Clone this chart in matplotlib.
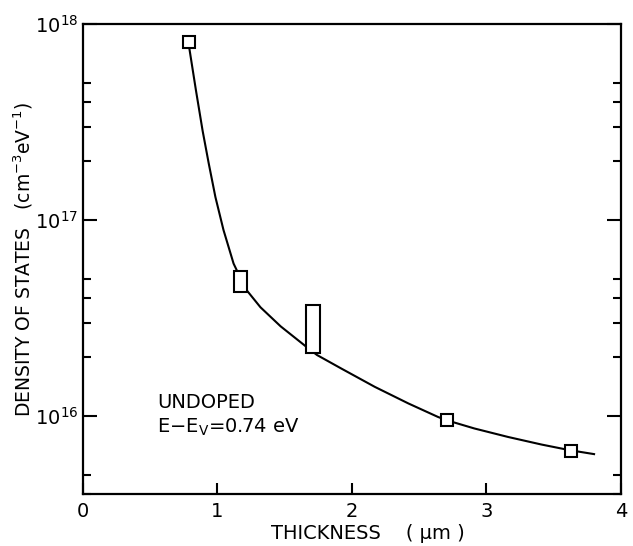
import matplotlib
matplotlib.use("Agg")
import matplotlib.pyplot as plt
from matplotlib.ticker import LogLocator, NullFormatter, FixedLocator

# measured points (squares)
sq_x = [0.79, 2.71, 3.63]
sq_y = [8.1e17, 9.5e15, 6.65e15]

# measured ranges (open rectangles)
bar_x = [1.17, 1.71]
bar_lo = [4.3e16, 2.1e16]
bar_hi = [5.5e16, 3.7e16]

# guide curve
curve_x = [0.79, 0.84, 0.89, 0.935, 0.985, 1.045, 1.12, 1.21, 1.32, 1.47, 1.66,
           1.74, 1.92, 2.17, 2.42, 2.64, 2.71, 2.91, 3.16, 3.41, 3.62, 3.80]
curve_y = [7.6e17, 4.6e17, 2.85e17, 1.95e17, 1.31e17, 8.9e16, 6.0e16, 4.45e16,
           3.59e16, 2.87e16, 2.26e16, 2.05e16, 1.75e16, 1.41e16, 1.16e16,
           9.9e15, 9.5e15, 8.65e15, 7.83e15, 7.16e15, 6.7e15, 6.4e15]

plt.rcParams['font.family'] = ['DejaVu Sans']
fig = plt.figure(figsize=(6.33, 5.46), dpi=100)
ax = fig.add_axes([0.131, 0.095, 0.850, 0.861])

ax.plot(curve_x, curve_y, color='black', lw=1.5, zorder=2)
ax.bar(bar_x, [h - l for h, l in zip(bar_hi, bar_lo)], bottom=bar_lo, width=0.1,
       facecolor='white', edgecolor='black', linewidth=1.5, zorder=3)
ax.plot(sq_x, sq_y, 's', ms=8.5, mfc='white', mec='black', mew=1.5, zorder=4)

ax.set_yscale('log')
ax.set_xlim(0, 4)
ax.set_ylim(4e15, 1e18)

ax.xaxis.set_major_locator(FixedLocator([0, 1, 2, 3, 4]))
ax.yaxis.set_major_locator(FixedLocator([1e16, 1e17, 1e18]))
ax.yaxis.set_minor_locator(LogLocator(base=10, subs=[2, 3, 4, 5]))
ax.yaxis.set_minor_formatter(NullFormatter())
ax.set_yticklabels([r'$10^{16}$', r'$10^{17}$', r'$10^{18}$'])

ax.tick_params(axis='x', which='both', direction='in', length=8, width=1.5,
               labelsize=14, pad=6, top=False)
ax.tick_params(axis='y', which='major', direction='in', length=10, width=1.5,
               labelsize=14, left=True, right=True)
ax.tick_params(axis='y', which='minor', direction='in', length=6, width=1.5,
               left=True, right=True)
for s in ax.spines.values():
    s.set_linewidth(1.6)

ax.set_xlabel('THICKNESS    ( \u03bcm )', fontsize=14, labelpad=2, x=0.53)
ax.set_ylabel(r'DENSITY OF STATES   (cm$^{-3}$eV$^{-1}$)', fontsize=13.5, labelpad=0)

ax.text(0.138, 0.194, 'UNDOPED', transform=ax.transAxes, fontsize=14, va='center')
ax.text(0.138, 0.143, r'E$-$E$_\mathrm{V}$=0.74 eV', transform=ax.transAxes,
        fontsize=14, va='center')

fig.savefig('out.png', dpi=100)
